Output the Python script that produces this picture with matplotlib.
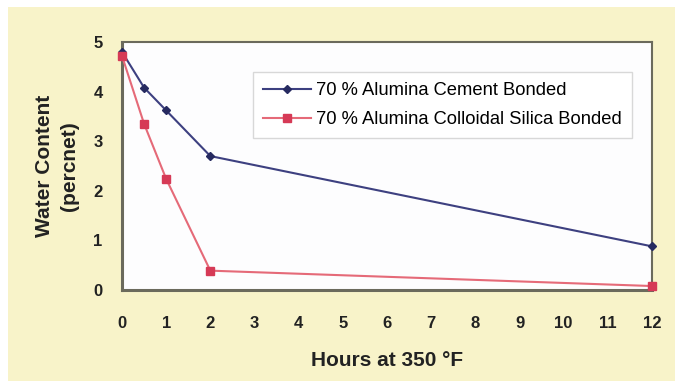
import matplotlib
matplotlib.use("Agg")
import matplotlib.pyplot as plt
from matplotlib.patches import Rectangle

# Drying data: water content (percent) vs. hours at 350 °F
hours = [0, 0.5, 1, 2, 12]
cement_bonded = [4.8, 4.08, 3.62, 2.7, 0.88]
silica_bonded = [4.72, 3.35, 2.24, 0.39, 0.08]
series_labels = ["70 % Alumina Cement Bonded", "70 % Alumina Colloidal Silica Bonded"]
x_ticks = list(range(0, 13))
y_ticks = [0, 1, 2, 3, 4, 5]

plt.rcParams["font.family"] = ["Liberation Sans", "DejaVu Sans"]

W, H = 689, 381
fig = plt.figure(figsize=(W / 100, H / 100), dpi=100, facecolor="white")

# cream panel behind the chart
panel = Rectangle((8 / W, 0), (675 - 8) / W, (H - 7) / H,
                  transform=fig.transFigure, facecolor="#f8f3c9",
                  edgecolor="none", zorder=-10)
fig.add_artist(panel)

ax = fig.add_axes([122 / W, (H - 290) / H, (652 - 122) / W, (290 - 42) / H])
ax.set_zorder(1)
ax.set_facecolor("#fdfdfe")

ax.plot(hours, cement_bonded, color="#3d4080", lw=1.5, marker="D", ms=4,
        mfc="#262a60", mec="#262a60", label=series_labels[0], clip_on=False, zorder=3)
ax.plot(hours, silica_bonded, color="#e56a78", lw=1.5, marker="s", ms=6,
        mfc="#d63a56", mec="#d63a56", label=series_labels[1], clip_on=False, zorder=3)

ax.set_xlim(0, 12)
ax.set_ylim(0, 5)
ax.set_xticks(x_ticks)
ax.set_yticks(y_ticks)
ax.tick_params(length=0, labelsize=12, colors="#222222")
ax.tick_params(axis="x", pad=19)
ax.tick_params(axis="y", pad=14)
for lab in ax.get_xticklabels() + ax.get_yticklabels():
    lab.set_fontweight("bold")

for side in ["left", "bottom", "top", "right"]:
    ax.spines[side].set_color("#6b6a5c")
ax.spines["left"].set_linewidth(2.2)
ax.spines["bottom"].set_linewidth(2.2)
ax.spines["top"].set_linewidth(1.5)
ax.spines["right"].set_linewidth(1.5)

ax.set_xlabel("Hours at 350 °F", fontsize=15, fontweight="bold", labelpad=14, color="#222222")
ax.set_ylabel("Water Content\n(percnet)", fontsize=15, fontweight="bold", labelpad=10,
              color="#222222", linespacing=1.45)

leg = ax.legend(loc="upper left", bbox_to_anchor=(253 / W, 1 - 72 / H),
                bbox_transform=fig.transFigure, fontsize=13.2, frameon=True,
                fancybox=False, edgecolor="#d8d8d8", facecolor="white",
                handlelength=2.6, handletextpad=0.3, borderpad=0.55,
                labelspacing=0.65, borderaxespad=0)
leg.get_frame().set_linewidth(1.0)
leg.get_frame().set_alpha(1)

fig.savefig("out.png", dpi=100, facecolor="white")
